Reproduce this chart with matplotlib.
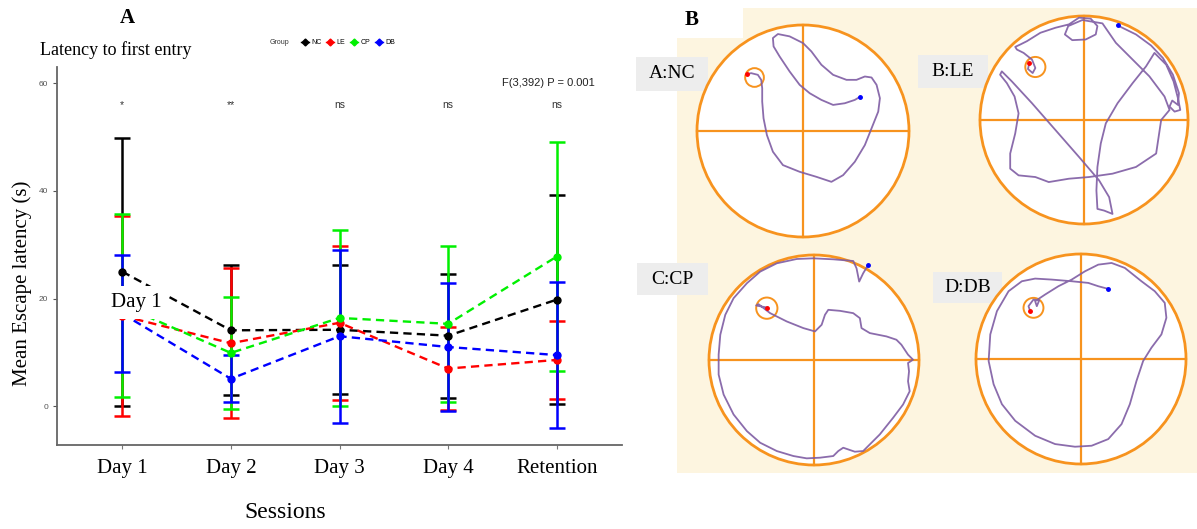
import numpy as np
import matplotlib
matplotlib.use("Agg")
import matplotlib.pyplot as plt
from matplotlib.patches import Circle, Rectangle
from matplotlib.lines import Line2D

plt.rcParams['font.family'] = ['Liberation Sans', 'DejaVu Sans']
SERIF = ['Liberation Serif', 'DejaVu Serif']

# ---- panel A data (mean +/- sd) ----
sessions = ['Day 1', 'Day 2', 'Day 3', 'Day 4', 'Retention']
groups = ['NC', 'LE', 'CP', 'DB']
colors = ['#000000', '#FF0000', '#00F000', '#0000FF']

nc_mean = [25.0, 14.1, 14.2, 13.1, 19.8]
nc_sd = [24.9, 12.1, 12.0, 11.5, 19.4]
le_mean = [16.8, 11.7, 15.5, 7.0, 8.6]
le_sd = [18.6, 13.9, 14.3, 7.7, 7.2]
cp_mean = [18.7, 9.9, 16.4, 15.3, 27.8]
cp_sd = [17.0, 10.4, 16.4, 14.5, 21.3]
db_mean = [17.2, 5.1, 13.0, 11.0, 9.5]
db_sd = [10.9, 4.4, 16.1, 11.8, 13.5]
sig = ['*', '**', 'ns', 'ns', 'ns']

# ---- panel B swim tracks (traced points, pool centre / radius of the trace) ----
pool_a = (340, 338, 317)
track_a = [(172,168),(185,165),(205,170),(215,185),(218,210),(218,250),(222,300),(232,350),
           (250,400),(280,440),(330,460),(380,475),(425,490),(460,470),(495,430),(525,380),
           (545,330),(565,280),(570,240),(560,200),(545,178),(525,175),(500,185),(470,185),
           (430,170),(395,140),(365,100),(340,75),(300,55),(265,48),(250,60),(252,85),
           (270,115),(300,160),(330,200),(360,225),(395,245),(430,260),(465,255),(495,245),(510,236)]
target_a = (195, 178, 28)

pool_b = (345, 330, 310)
track_b = [(182,160),(178,178),(192,190),(200,175),(190,150),(165,130),(145,120),(140,112),
           (155,105),(175,95),(215,70),(260,55),(300,45),(330,25),(365,28),(385,50),(380,75),
           (350,90),(310,92),(288,75),(298,50),(340,32),(400,42),(440,100),(490,150),
           (540,200),(585,260),(600,300),(575,330),(560,430),(500,470),(430,490),(360,500),
           (300,505),(240,515),(200,500),(150,495),(125,475),(125,430),(140,370),(150,310),
           (138,260),(115,220),(95,195),(100,185),(130,215),(190,280),(260,360),(330,440),
           (390,510),(420,560),(430,610),(405,600),(385,595),(382,540),(385,470),(395,400),
           (410,340),(445,280),(490,220),(530,170),(555,130),(590,165),(612,215),(625,265),
           (632,300),(615,305),(600,290),(608,272),(625,285),(628,250),(610,195),(580,145),
           (545,108),(500,75),(445,48)]
target_b = (200, 172, 30)

pool_c = (342, 336, 316)
track_c = [(200,178),(168,172),(175,168),(210,195),(260,220),(310,240),(345,250),(365,230),
           (375,200),(385,185),(420,188),(460,195),(480,210),(485,240),(510,255),(560,265),
           (590,275),(605,290),(625,320),(640,335),(625,345),(628,370),(625,400),(630,430),
           (610,470),(580,510),(540,560),(490,610),(465,612),(430,600),(415,610),(400,625),
           (360,630),(320,632),(280,625),(230,610),(180,585),(140,550),(100,500),(70,440),
           (55,380),(55,320),(60,260),(75,200),(100,150),(140,105),(180,70),(230,45),
           (290,32),(340,30),(400,33),(460,38),(470,60),(478,100),(490,75),(505,50)]
target_c = (200, 180, 32)

pool_d = (348, 334, 316)
track_d = [(195,190),(190,175),(205,155),(222,158),(215,175),(210,160),(240,140),(280,115),
           (320,95),(360,70),(400,50),(440,45),(480,60),(530,100),(570,130),(600,165),
           (605,210),(590,260),(560,300),(535,340),(515,400),(495,470),(470,530),(430,575),
           (380,595),(330,598),(270,590),(210,565),(150,520),(110,470),(85,410),(70,340),
           (75,260),(95,190),(130,130),(170,100),(210,92),(260,95),(320,100),(370,105),
           (400,115),(430,123)]
target_d = (205, 180, 30)

W, H = 1197, 529
fig = plt.figure(figsize=(W / 100, H / 100), dpi=100)
fig.patch.set_facecolor('white')

# ---------------- panel A ----------------
ax = fig.add_axes([57 / W, 1 - 445 / H, 565 / W, 378 / H])
x = np.arange(1, len(sessions) + 1)
means = [nc_mean, le_mean, cp_mean, db_mean]
sds = [nc_sd, le_sd, cp_sd, db_sd]

for m, s, c in zip(means, sds, colors):
    ax.errorbar(x, m, yerr=s, fmt='none', ecolor=c, elinewidth=1.8,
                capsize=5.5, capthick=1.8, zorder=2)
for m, c in zip(means, colors):
    ax.plot(x, m, ls=(0, (3.5, 2.2)), color=c, lw=1.7, marker='o',
            markersize=5, zorder=3)

for xi, s in zip(x, sig):
    ax.text(xi, 56, s, ha='center', va='center', fontsize=7.5, color='#333333')

ax.text(5.35, 60, 'F(3,392) P = 0.001', ha='right', va='center', fontsize=8, color='#222222')

ax.text(1.13, 19.3, 'Day 1', ha='center', va='center', fontsize=15, family=SERIF,
        bbox=dict(boxstyle='square,pad=0.35', fc='white', ec='none'), zorder=5)

ax.set_xlim(0.4, 5.6)
ax.set_ylim(-7.2, 63)
ax.set_xticks(x)
ax.set_xticklabels(sessions, fontsize=15, family=SERIF)
ax.set_yticks([0, 20, 40, 60])
ax.tick_params(axis='y', labelsize=6, colors='#555555', length=3, width=0.8)
ax.tick_params(axis='x', length=3, width=0.8, color='#777777', pad=7)
for side in ['top', 'right']:
    ax.spines[side].set_visible(False)
for side in ['left', 'bottom']:
    ax.spines[side].set_color('#666666')
    ax.spines[side].set_linewidth(1.3)

fig.text(22 / W, 1 - 283 / H, 'Mean Escape latency (s)', rotation=90, ha='center',
         va='center', fontsize=15, family=SERIF)
fig.text(285 / W, 1 - 513 / H, 'Sessions', ha='center', va='center', fontsize=17, family=SERIF)
fig.text(40 / W, 1 - 50 / H, 'Latency to first entry', ha='left', va='center', fontsize=13,
         family=SERIF)
fig.text(127 / W, 1 - 18 / H, 'A', ha='center', va='center', fontsize=15, fontweight='bold',
         family=SERIF)

fig.text(279 / W, 1 - 43 / H, 'Group', ha='center', va='center', fontsize=5, color='#333333')
handles = [Line2D([0], [0], color=c, lw=1, marker='D', markersize=3.5) for c in colors]
fig.legend(handles, groups, loc='center', bbox_to_anchor=(348 / W, 1 - 43 / H), ncol=4,
           frameon=False, fontsize=5, handlelength=1.2, columnspacing=0.7,
           handletextpad=0.3, borderpad=0)

# ---------------- panel B ----------------
bg = fig.add_axes([0, 0, 1, 1], zorder=-5)
bg.set_xlim(0, W)
bg.set_ylim(H, 0)
bg.axis('off')
cream = '#FDF5E0'
bg.add_patch(Rectangle((677, 38), W - 677, 473 - 38, fc=cream, ec='none'))
bg.add_patch(Rectangle((743, 8), W - 743, 30, fc=cream, ec='none'))
fig.text(692 / W, 1 - 20 / H, 'B', ha='center', va='center', fontsize=15, fontweight='bold',
         family=SERIF)

orange = '#F7931E'
purple = '#7E5CA3'
mazes = [
    ('A:NC', track_a, pool_a, target_a, (803, 131, 106), (636, 57, 708, 91)),
    ('B:LE', track_b, pool_b, target_b, (1084, 120, 104), (918, 55, 988, 88)),
    ('C:CP', track_c, pool_c, target_c, (814, 360, 105), (637, 263, 708, 295)),
    ('D:DB', track_d, pool_d, target_d, (1081, 359, 105), (933, 272, 1002, 303)),
]
for name, track, pool, target, (cx, cy, r), (bx0, by0, bx1, by1) in mazes:
    pcx, pcy, pr = pool
    pts = np.array(track, dtype=float)
    u = (pts[:, 0] - pcx) / pr
    v = (pcy - pts[:, 1]) / pr
    lim = 1.06
    s = 2 * r * lim
    m = fig.add_axes([(cx - s / 2) / W, 1 - (cy + s / 2) / H, s / W, s / H])
    m.set_xlim(-lim, lim)
    m.set_ylim(-lim, lim)
    m.set_aspect('equal')
    m.axis('off')
    m.add_patch(Circle((0, 0), 1, fc='white', ec=orange, lw=2))
    m.plot([-1, 1], [0, 0], color=orange, lw=1.6)
    m.plot([0, 0], [-1, 1], color=orange, lw=1.6)
    tx, ty, tr = target
    m.add_patch(Circle(((tx - pcx) / pr, (pcy - ty) / pr), tr / pr, fc='none', ec=orange, lw=1.4))
    m.plot(u, v, color=purple, lw=1.3, alpha=0.9)
    m.plot(u[0], v[0], 'o', color='red', markersize=2.5)
    m.plot(u[-1], v[-1], 'o', color='blue', markersize=2.5)

    bg.add_patch(Rectangle((bx0, by0), bx1 - bx0, by1 - by0, fc='#EDEDED', ec='none', zorder=4))
    bg.text((bx0 + bx1) / 2, (by0 + by1) / 2, name, ha='center', va='center', fontsize=14,
            family=SERIF, zorder=5)

fig.savefig('out.png', dpi=100)
